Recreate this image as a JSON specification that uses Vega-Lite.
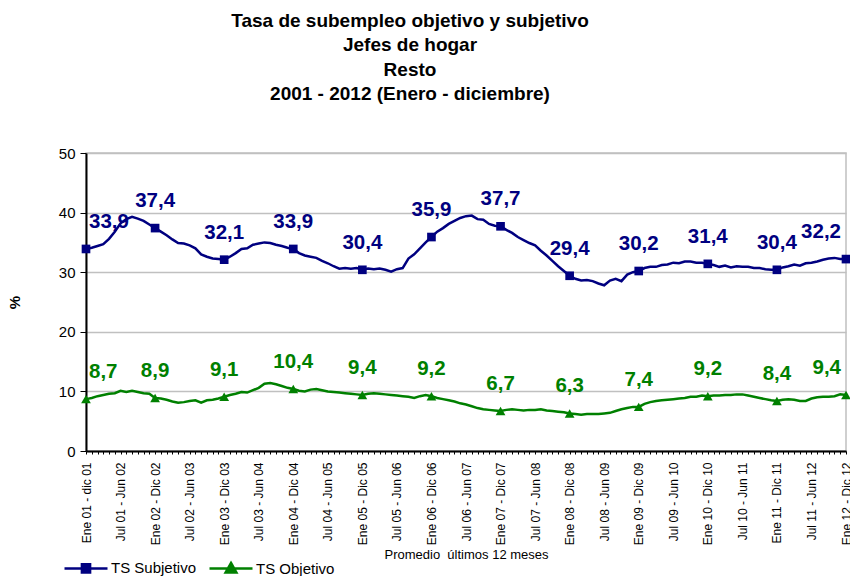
{
  "$schema": "https://vega.github.io/schema/vega-lite/v6.json",
  "width": 760,
  "height": 298,
  "autosize": {"type": "none"},
  "padding": {"left": 86, "top": 153, "right": 4, "bottom": 125},
  "background": "white",
  "config": {
    "font": "Liberation Sans",
    "locale": {"number": {"decimal": ",", "thousands": ".", "grouping": [3], "currency": ["", ""]}},
    "view": {"stroke": "#c0c0c0", "strokeWidth": 1.5},
    "title": {"font": "Liberation Sans", "fontSize": 19, "fontWeight": "bold", "lineHeight": 24.5, "color": "black"}
  },
  "title": {
    "text": ["Tasa de subempleo objetivo y subjetivo", "Jefes de hogar", "Resto", "2001 - 2012 (Enero - diciembre)"],
    "anchor": "middle",
    "frame": "group",
    "dx": -56,
    "offset": 42
  },
  "data": {"values": [
    {"p":"Ene 01 - dic 01","TS Subjetivo":33.9,"TS Objetivo":8.7},
    {"p":"Feb 01 - Ene 02","TS Subjetivo":34.1,"TS Objetivo":8.9},
    {"p":"Mar 01 - Feb 02","TS Subjetivo":34.4,"TS Objetivo":9.2},
    {"p":"Abr 01 - Mar 02","TS Subjetivo":34.7,"TS Objetivo":9.4},
    {"p":"May 01 - Abr 02","TS Subjetivo":35.6,"TS Objetivo":9.6},
    {"p":"Jun 01 - May 02","TS Subjetivo":36.8,"TS Objetivo":9.7},
    {"p":"Jul 01 - Jun 02","TS Subjetivo":38.2,"TS Objetivo":10.1},
    {"p":"Ago 01 - Jul 02","TS Subjetivo":38.9,"TS Objetivo":9.9},
    {"p":"Sep 01 - Ago 02","TS Subjetivo":39.3,"TS Objetivo":10.1},
    {"p":"Oct 01 - Sep 02","TS Subjetivo":39.0,"TS Objetivo":9.9},
    {"p":"Nov 01 - Oct 02","TS Subjetivo":38.6,"TS Objetivo":9.7},
    {"p":"Dic 01 - Nov 02","TS Subjetivo":38.0,"TS Objetivo":9.6},
    {"p":"Ene 02 - Dic 02","TS Subjetivo":37.4,"TS Objetivo":8.9},
    {"p":"Feb 02 - Ene 03","TS Subjetivo":36.8,"TS Objetivo":8.8},
    {"p":"Mar 02 - Feb 03","TS Subjetivo":36.2,"TS Objetivo":8.6},
    {"p":"Abr 02 - Mar 03","TS Subjetivo":35.5,"TS Objetivo":8.3},
    {"p":"May 02 - Abr 03","TS Subjetivo":34.9,"TS Objetivo":8.1},
    {"p":"Jun 02 - May 03","TS Subjetivo":34.8,"TS Objetivo":8.2},
    {"p":"Jul 02 - Jun 03","TS Subjetivo":34.5,"TS Objetivo":8.4},
    {"p":"Ago 02 - Jul 03","TS Subjetivo":34.0,"TS Objetivo":8.5},
    {"p":"Sep 02 - Ago 03","TS Subjetivo":33.0,"TS Objetivo":8.1},
    {"p":"Oct 02 - Sep 03","TS Subjetivo":32.6,"TS Objetivo":8.5},
    {"p":"Nov 02 - Oct 03","TS Subjetivo":32.3,"TS Objetivo":8.6},
    {"p":"Dic 02 - Nov 03","TS Subjetivo":32.2,"TS Objetivo":8.8},
    {"p":"Ene 03 - Dic 03","TS Subjetivo":32.1,"TS Objetivo":9.1},
    {"p":"Feb 03 - Ene 04","TS Subjetivo":32.6,"TS Objetivo":9.4},
    {"p":"Mar 03 - Feb 04","TS Subjetivo":33.2,"TS Objetivo":9.6},
    {"p":"Abr 03 - Mar 04","TS Subjetivo":33.9,"TS Objetivo":9.9},
    {"p":"May 03 - Abr 04","TS Subjetivo":34.0,"TS Objetivo":9.8},
    {"p":"Jun 03 - May 04","TS Subjetivo":34.6,"TS Objetivo":10.2},
    {"p":"Jul 03 - Jun 04","TS Subjetivo":34.8,"TS Objetivo":10.6},
    {"p":"Ago 03 - Jul 04","TS Subjetivo":35.0,"TS Objetivo":11.3},
    {"p":"Sep 03 - Ago 04","TS Subjetivo":34.9,"TS Objetivo":11.4},
    {"p":"Oct 03 - Sep 04","TS Subjetivo":34.6,"TS Objetivo":11.2},
    {"p":"Nov 03 - Oct 04","TS Subjetivo":34.4,"TS Objetivo":10.9},
    {"p":"Dic 03 - Nov 04","TS Subjetivo":34.1,"TS Objetivo":10.6},
    {"p":"Ene 04 - Dic 04","TS Subjetivo":33.9,"TS Objetivo":10.4},
    {"p":"Feb 04 - Ene 05","TS Subjetivo":33.2,"TS Objetivo":10.1},
    {"p":"Mar 04 - Feb 05","TS Subjetivo":32.8,"TS Objetivo":10.0},
    {"p":"Abr 04 - Mar 05","TS Subjetivo":32.6,"TS Objetivo":10.3},
    {"p":"May 04 - Abr 05","TS Subjetivo":32.4,"TS Objetivo":10.4},
    {"p":"Jun 04 - May 05","TS Subjetivo":31.9,"TS Objetivo":10.2},
    {"p":"Jul 04 - Jun 05","TS Subjetivo":31.5,"TS Objetivo":10.0},
    {"p":"Ago 04 - Jul 05","TS Subjetivo":31.0,"TS Objetivo":9.9},
    {"p":"Sep 04 - Ago 05","TS Subjetivo":30.6,"TS Objetivo":9.8},
    {"p":"Oct 04 - Sep 05","TS Subjetivo":30.7,"TS Objetivo":9.7},
    {"p":"Nov 04 - Oct 05","TS Subjetivo":30.6,"TS Objetivo":9.6},
    {"p":"Dic 04 - Nov 05","TS Subjetivo":30.7,"TS Objetivo":9.5},
    {"p":"Ene 05 - Dic 05","TS Subjetivo":30.4,"TS Objetivo":9.4},
    {"p":"Feb 05 - Ene 06","TS Subjetivo":30.6,"TS Objetivo":9.6},
    {"p":"Mar 05 - Feb 06","TS Subjetivo":30.5,"TS Objetivo":9.7},
    {"p":"Abr 05 - Mar 06","TS Subjetivo":30.6,"TS Objetivo":9.6},
    {"p":"May 05 - Abr 06","TS Subjetivo":30.4,"TS Objetivo":9.5},
    {"p":"Jun 05 - May 06","TS Subjetivo":30.1,"TS Objetivo":9.4},
    {"p":"Jul 05 - Jun 06","TS Subjetivo":30.5,"TS Objetivo":9.3},
    {"p":"Ago 05 - Jul 06","TS Subjetivo":30.7,"TS Objetivo":9.2},
    {"p":"Sep 05 - Ago 06","TS Subjetivo":32.3,"TS Objetivo":9.1},
    {"p":"Oct 05 - Sep 06","TS Subjetivo":33.0,"TS Objetivo":8.9},
    {"p":"Nov 05 - Oct 06","TS Subjetivo":34.0,"TS Objetivo":9.2},
    {"p":"Dic 05 - Nov 06","TS Subjetivo":35.0,"TS Objetivo":9.4},
    {"p":"Ene 06 - Dic 06","TS Subjetivo":35.9,"TS Objetivo":9.2},
    {"p":"Feb 06 - Ene 07","TS Subjetivo":36.8,"TS Objetivo":8.9},
    {"p":"Mar 06 - Feb 07","TS Subjetivo":37.4,"TS Objetivo":8.7},
    {"p":"Abr 06 - Mar 07","TS Subjetivo":38.1,"TS Objetivo":8.5},
    {"p":"May 06 - Abr 07","TS Subjetivo":38.6,"TS Objetivo":8.3},
    {"p":"Jun 06 - May 07","TS Subjetivo":39.1,"TS Objetivo":8.0},
    {"p":"Jul 06 - Jun 07","TS Subjetivo":39.4,"TS Objetivo":7.8},
    {"p":"Ago 06 - Jul 07","TS Subjetivo":39.5,"TS Objetivo":7.5},
    {"p":"Sep 06 - Ago 07","TS Subjetivo":38.9,"TS Objetivo":7.2},
    {"p":"Oct 06 - Sep 07","TS Subjetivo":38.8,"TS Objetivo":7.0},
    {"p":"Nov 06 - Oct 07","TS Subjetivo":38.1,"TS Objetivo":6.9},
    {"p":"Dic 06 - Nov 07","TS Subjetivo":37.8,"TS Objetivo":6.8},
    {"p":"Ene 07 - Dic 07","TS Subjetivo":37.7,"TS Objetivo":6.7},
    {"p":"Feb 07 - Ene 08","TS Subjetivo":37.1,"TS Objetivo":6.9},
    {"p":"Mar 07 - Feb 08","TS Subjetivo":36.6,"TS Objetivo":7.0},
    {"p":"Abr 07 - Mar 08","TS Subjetivo":35.9,"TS Objetivo":6.9},
    {"p":"May 07 - Abr 08","TS Subjetivo":35.4,"TS Objetivo":6.8},
    {"p":"Jun 07 - May 08","TS Subjetivo":34.9,"TS Objetivo":6.9},
    {"p":"Jul 07 - Jun 08","TS Subjetivo":34.5,"TS Objetivo":6.9},
    {"p":"Ago 07 - Jul 08","TS Subjetivo":33.6,"TS Objetivo":7.0},
    {"p":"Sep 07 - Ago 08","TS Subjetivo":32.8,"TS Objetivo":6.8},
    {"p":"Oct 07 - Sep 08","TS Subjetivo":31.9,"TS Objetivo":6.7},
    {"p":"Nov 07 - Oct 08","TS Subjetivo":31.0,"TS Objetivo":6.6},
    {"p":"Dic 07 - Nov 08","TS Subjetivo":30.2,"TS Objetivo":6.5},
    {"p":"Ene 08 - Dic 08","TS Subjetivo":29.4,"TS Objetivo":6.3},
    {"p":"Feb 08 - Ene 09","TS Subjetivo":28.9,"TS Objetivo":6.2},
    {"p":"Mar 08 - Feb 09","TS Subjetivo":28.6,"TS Objetivo":6.1},
    {"p":"Abr 08 - Mar 09","TS Subjetivo":28.7,"TS Objetivo":6.2},
    {"p":"May 08 - Abr 09","TS Subjetivo":28.5,"TS Objetivo":6.2},
    {"p":"Jun 08 - May 09","TS Subjetivo":28.1,"TS Objetivo":6.2},
    {"p":"Jul 08 - Jun 09","TS Subjetivo":27.8,"TS Objetivo":6.3},
    {"p":"Ago 08 - Jul 09","TS Subjetivo":28.6,"TS Objetivo":6.4},
    {"p":"Sep 08 - Ago 09","TS Subjetivo":28.9,"TS Objetivo":6.7},
    {"p":"Oct 08 - Sep 09","TS Subjetivo":28.5,"TS Objetivo":7.0},
    {"p":"Nov 08 - Oct 09","TS Subjetivo":29.6,"TS Objetivo":7.2},
    {"p":"Dic 08 - Nov 09","TS Subjetivo":30.0,"TS Objetivo":7.4},
    {"p":"Ene 09 - Dic 09","TS Subjetivo":30.2,"TS Objetivo":7.4},
    {"p":"Feb 09 - Ene 10","TS Subjetivo":30.7,"TS Objetivo":7.9},
    {"p":"Mar 09 - Feb 10","TS Subjetivo":30.9,"TS Objetivo":8.2},
    {"p":"Abr 09 - Mar 10","TS Subjetivo":30.9,"TS Objetivo":8.4},
    {"p":"May 09 - Abr 10","TS Subjetivo":31.2,"TS Objetivo":8.5},
    {"p":"Jun 09 - May 10","TS Subjetivo":31.3,"TS Objetivo":8.6},
    {"p":"Jul 09 - Jun 10","TS Subjetivo":31.6,"TS Objetivo":8.7},
    {"p":"Ago 09 - Jul 10","TS Subjetivo":31.5,"TS Objetivo":8.8},
    {"p":"Sep 09 - Ago 10","TS Subjetivo":31.8,"TS Objetivo":8.9},
    {"p":"Oct 09 - Sep 10","TS Subjetivo":31.8,"TS Objetivo":9.1},
    {"p":"Nov 09 - Oct 10","TS Subjetivo":31.6,"TS Objetivo":9.1},
    {"p":"Dic 09 - Nov 10","TS Subjetivo":31.6,"TS Objetivo":9.3},
    {"p":"Ene 10 - Dic 10","TS Subjetivo":31.4,"TS Objetivo":9.2},
    {"p":"Feb 10 - Ene 11","TS Subjetivo":31.2,"TS Objetivo":9.3},
    {"p":"Mar 10 - Feb 11","TS Subjetivo":30.9,"TS Objetivo":9.3},
    {"p":"Abr 10 - Mar 11","TS Subjetivo":31.1,"TS Objetivo":9.4},
    {"p":"May 10 - Abr 11","TS Subjetivo":30.8,"TS Objetivo":9.4},
    {"p":"Jun 10 - May 11","TS Subjetivo":31.0,"TS Objetivo":9.5},
    {"p":"Jul 10 - Jun 11","TS Subjetivo":30.9,"TS Objetivo":9.5},
    {"p":"Ago 10 - Jul 11","TS Subjetivo":30.9,"TS Objetivo":9.3},
    {"p":"Sep 10 - Ago 11","TS Subjetivo":30.7,"TS Objetivo":9.1},
    {"p":"Oct 10 - Sep 11","TS Subjetivo":30.7,"TS Objetivo":8.9},
    {"p":"Nov 10 - Oct 11","TS Subjetivo":30.5,"TS Objetivo":8.7},
    {"p":"Dic 10 - Nov 11","TS Subjetivo":30.4,"TS Objetivo":8.5},
    {"p":"Ene 11 - Dic 11","TS Subjetivo":30.4,"TS Objetivo":8.4},
    {"p":"Feb 11 - Ene 12","TS Subjetivo":30.8,"TS Objetivo":8.6},
    {"p":"Mar 11 - Feb 12","TS Subjetivo":31.0,"TS Objetivo":8.7},
    {"p":"Abr 11 - Mar 12","TS Subjetivo":31.3,"TS Objetivo":8.6},
    {"p":"May 11 - Abr 12","TS Subjetivo":31.1,"TS Objetivo":8.4},
    {"p":"Jun 11 - May 12","TS Subjetivo":31.5,"TS Objetivo":8.4},
    {"p":"Jul 11 - Jun 12","TS Subjetivo":31.6,"TS Objetivo":8.8},
    {"p":"Ago 11 - Jul 12","TS Subjetivo":31.8,"TS Objetivo":9.0},
    {"p":"Sep 11 - Ago 12","TS Subjetivo":32.1,"TS Objetivo":9.1},
    {"p":"Oct 11 - Sep 12","TS Subjetivo":32.3,"TS Objetivo":9.1},
    {"p":"Nov 11 - Oct 12","TS Subjetivo":32.4,"TS Objetivo":9.2},
    {"p":"Dic 11 - Nov 12","TS Subjetivo":32.2,"TS Objetivo":9.5},
    {"p":"Ene 12 - Dic 12","TS Subjetivo":32.2,"TS Objetivo":9.4}
  ]},
  "transform": [{"fold": ["TS Subjetivo", "TS Objetivo"], "as": ["serie", "v"]}],
  "encoding": {
    "x": {
      "field": "p", "type": "nominal", "sort": null,
      "scale": {"type": "point", "padding": 0},
      "axis": {
        "title": "Promedio\u00a0 últimos 12 meses",
        "titleFont": "Liberation Sans", "titleFontSize": 13, "titleFontWeight": "normal", "titleColor": "black", "titlePadding": 4,
        "labelExpr": "test(/^(Ene|Jul)/, datum.value) ? datum.value : ''",
        "labelAngle": 270, "labelAlign": "right", "labelBaseline": "middle",
        "labelFont": "Liberation Sans", "labelFontSize": 12, "labelColor": "black", "labelPadding": 8,
        "labelOverlap": false, "labelBound": false, "labelFlush": false,
        "tickSize": 3, "tickColor": "black", "tickWidth": 1,
        "domainColor": "black", "domainWidth": 2, "grid": false
      }
    },
    "y": {
      "field": "v", "type": "quantitative",
      "scale": {"domain": [0, 50], "nice": false},
      "axis": {
        "title": "%", "titleFont": "Liberation Sans", "titleFontSize": 15, "titleFontWeight": "bold", "titleColor": "black", "titlePadding": 36,
        "values": [0, 10, 20, 30, 40, 50],
        "labelFont": "Liberation Sans", "labelFontSize": 15, "labelColor": "black", "labelPadding": 5,
        "tickSize": 6, "tickColor": "black", "tickWidth": 1,
        "domainColor": "black", "domainWidth": 2,
        "grid": true, "gridColor": "#c0c0c0", "gridWidth": 1.5
      }
    },
    "color": {
      "field": "serie", "type": "nominal",
      "scale": {"domain": ["TS Subjetivo", "TS Objetivo"], "range": ["#000080", "#008000"]},
      "legend": {
        "title": null, "orient": "none", "legendX": -23, "legendY": 392, "direction": "horizontal", "padding": 0,
        "labelFont": "Liberation Sans", "labelFontSize": 15, "labelColor": "black", "labelOffset": 2,
        "columnPadding": 7, "symbolSize": 1849, "symbolStrokeWidth": 2.5,
        "encode": {"symbols": {"update": {
          "shape": {"signal": "datum.value === 'TS Subjetivo' ? 'M-1,0H1M-0.19,-0.19H0.19V0.19H-0.19Z' : 'M-1,0H1M0,-0.26L0.25,0.18H-0.25Z'"},
          "fill": {"scale": "color", "field": "value"},
          "stroke": {"scale": "color", "field": "value"},
          "strokeWidth": {"value": 2.5},
          "size": {"value": 1849}
        }}}
      }
    }
  },
  "layer": [
    {"mark": {"type": "line", "strokeWidth": 2.5, "interpolate": "linear"}},
    {
      "transform": [{"filter": "test(/^Ene/, datum.p)"}],
      "mark": {"type": "point", "filled": true, "opacity": 1,
        "size": {"expr": "datum.serie === 'TS Subjetivo' ? 75 : 95"},
        "shape": {"expr": "datum.serie === 'TS Subjetivo' ? 'square' : 'triangle-up'"}}
    },
    {
      "transform": [{"filter": "test(/^Ene/, datum.p)"}],
      "mark": {
        "type": "text", "fontSize": 20.5, "fontWeight": "bold", "font": "Liberation Sans", "dy": -27, "baseline": "middle",
        "align": {"expr": "datum.p === 'Ene 01 - dic 01' ? 'left' : datum.p === 'Ene 12 - Dic 12' ? 'right' : 'center'"},
        "dx": {"expr": "datum.p === 'Ene 12 - Dic 12' ? -5 : datum.p === 'Ene 01 - dic 01' ? 3 : 0"}
      },
      "encoding": {"text": {"field": "v", "type": "quantitative", "format": ".1f"}}
    }
  ]
}
